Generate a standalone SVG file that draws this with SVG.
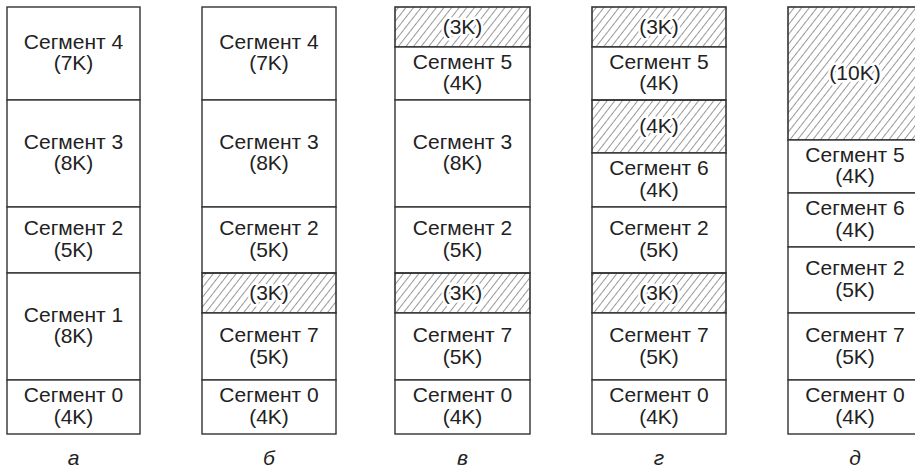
<svg xmlns="http://www.w3.org/2000/svg" width="915" height="470" viewBox="0 0 915 470">
<defs>
<pattern id="hatch" patternUnits="userSpaceOnUse" width="6" height="10" patternTransform="rotate(38)">
<line x1="0" y1="0" x2="0" y2="10" stroke="#333" stroke-width="1"/>
</pattern>
</defs>
<style>
.cell{fill:#fff;stroke:#333;stroke-width:1.4}
.free{fill:url(#hatch);stroke:#333;stroke-width:1.6}
text{font-family:"Liberation Sans",Arial,sans-serif;font-size:21px;fill:#222;text-anchor:middle}
.h{stroke:#fff;stroke-width:5;paint-order:stroke;stroke-linejoin:round}
.lbl{font-style:italic;font-size:21px}
</style>
<rect width="915" height="470" fill="#fff"/>

<g id="col-a">
<g id="a-s4"><rect class="cell" x="7" y="7" width="133" height="93"/><text x="73.5" y="48.5">Сегмент 4</text><text x="73.5" y="70">(7K)</text></g>
<g id="a-s3"><rect class="cell" x="7" y="100" width="133" height="107"/><text x="73.5" y="148.5">Сегмент 3</text><text x="73.5" y="170">(8K)</text></g>
<g id="a-s2"><rect class="cell" x="7" y="207" width="133" height="66"/><text x="73.5" y="235">Сегмент 2</text><text x="73.5" y="256.5">(5K)</text></g>
<g id="a-s1"><rect class="cell" x="7" y="273" width="133" height="107"/><text x="73.5" y="321.5">Сегмент 1</text><text x="73.5" y="343">(8K)</text></g>
<g id="a-s0"><rect class="cell" x="7" y="380" width="133" height="54"/><text x="73.5" y="402">Сегмент 0</text><text x="73.5" y="423.5">(4K)</text></g>
<text class="lbl" x="73.5" y="465">а</text>
</g>

<g id="col-b">
<g id="b-s4"><rect class="cell" x="202" y="7" width="134" height="93"/><text x="269" y="48.5">Сегмент 4</text><text x="269" y="70">(7K)</text></g>
<g id="b-s3"><rect class="cell" x="202" y="100" width="134" height="107"/><text x="269" y="148.5">Сегмент 3</text><text x="269" y="170">(8K)</text></g>
<g id="b-s2"><rect class="cell" x="202" y="207" width="134" height="66"/><text x="269" y="235">Сегмент 2</text><text x="269" y="256.5">(5K)</text></g>
<g id="b-h"><rect class="free" x="202" y="273" width="134" height="40"/><text class="h" x="269" y="300">(3K)</text></g>
<g id="b-s7"><rect class="cell" x="202" y="313" width="134" height="67"/><text x="269" y="342">Сегмент 7</text><text x="269" y="363.5">(5K)</text></g>
<g id="b-s0"><rect class="cell" x="202" y="380" width="134" height="54"/><text x="269" y="402">Сегмент 0</text><text x="269" y="423.5">(4K)</text></g>
<text class="lbl" x="269" y="465">б</text>
</g>

<g id="col-c">
<g id="c-h1"><rect class="free" x="395" y="7" width="135" height="40"/><text class="h" x="462.5" y="33.5">(3K)</text></g>
<g id="c-s5"><rect class="cell" x="395" y="47" width="135" height="53"/><text x="462.5" y="68.5">Сегмент 5</text><text x="462.5" y="90">(4K)</text></g>
<g id="c-s3"><rect class="cell" x="395" y="100" width="135" height="107"/><text x="462.5" y="148.5">Сегмент 3</text><text x="462.5" y="170">(8K)</text></g>
<g id="c-s2"><rect class="cell" x="395" y="207" width="135" height="66"/><text x="462.5" y="235">Сегмент 2</text><text x="462.5" y="256.5">(5K)</text></g>
<g id="c-h2"><rect class="free" x="395" y="273" width="135" height="40"/><text class="h" x="462.5" y="300">(3K)</text></g>
<g id="c-s7"><rect class="cell" x="395" y="313" width="135" height="67"/><text x="462.5" y="342">Сегмент 7</text><text x="462.5" y="363.5">(5K)</text></g>
<g id="c-s0"><rect class="cell" x="395" y="380" width="135" height="54"/><text x="462.5" y="402">Сегмент 0</text><text x="462.5" y="423.5">(4K)</text></g>
<text class="lbl" x="462.5" y="465">в</text>
</g>

<g id="col-d">
<g id="d-h1"><rect class="free" x="592" y="7" width="134" height="40"/><text class="h" x="659" y="33.5">(3K)</text></g>
<g id="d-s5"><rect class="cell" x="592" y="47" width="134" height="53"/><text x="659" y="68.5">Сегмент 5</text><text x="659" y="90">(4K)</text></g>
<g id="d-h2"><rect class="free" x="592" y="100" width="134" height="53"/><text class="h" x="659" y="133">(4K)</text></g>
<g id="d-s6"><rect class="cell" x="592" y="153" width="134" height="54"/><text x="659" y="175">Сегмент 6</text><text x="659" y="196.5">(4K)</text></g>
<g id="d-s2"><rect class="cell" x="592" y="207" width="134" height="66"/><text x="659" y="235">Сегмент 2</text><text x="659" y="256.5">(5K)</text></g>
<g id="d-h3"><rect class="free" x="592" y="273" width="134" height="40"/><text class="h" x="659" y="300">(3K)</text></g>
<g id="d-s7"><rect class="cell" x="592" y="313" width="134" height="67"/><text x="659" y="342">Сегмент 7</text><text x="659" y="363.5">(5K)</text></g>
<g id="d-s0"><rect class="cell" x="592" y="380" width="134" height="54"/><text x="659" y="402">Сегмент 0</text><text x="659" y="423.5">(4K)</text></g>
<text class="lbl" x="659" y="465">г</text>
</g>

<g id="col-e">
<g id="e-h"><rect class="free" x="788" y="7" width="134" height="133"/><text class="h" x="855" y="80">(10K)</text></g>
<g id="e-s5"><rect class="cell" x="788" y="140" width="134" height="53"/><text x="855" y="161.5">Сегмент 5</text><text x="855" y="183">(4K)</text></g>
<g id="e-s6"><rect class="cell" x="788" y="193" width="134" height="54"/><text x="855" y="215">Сегмент 6</text><text x="855" y="236.5">(4K)</text></g>
<g id="e-s2"><rect class="cell" x="788" y="247" width="134" height="66"/><text x="855" y="275">Сегмент 2</text><text x="855" y="296.5">(5K)</text></g>
<g id="e-s7"><rect class="cell" x="788" y="313" width="134" height="67"/><text x="855" y="342">Сегмент 7</text><text x="855" y="363.5">(5K)</text></g>
<g id="e-s0"><rect class="cell" x="788" y="380" width="134" height="54"/><text x="855" y="402">Сегмент 0</text><text x="855" y="423.5">(4K)</text></g>
<text class="lbl" x="855" y="465">д</text>
</g>
</svg>
